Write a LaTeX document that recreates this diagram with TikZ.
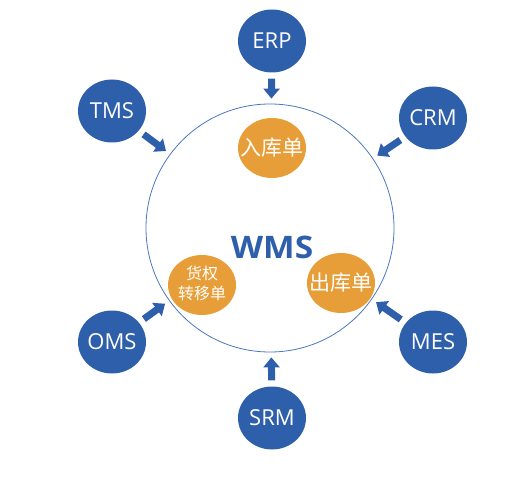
\documentclass[tikz,border=0pt]{standalone}
\usepackage{fontspec}
\setmainfont{Open Sans}
\newfontfamily\cjk{Noto Sans CJK SC}
\usetikzlibrary{shapes.geometric,arrows.meta}
\definecolor{sysblue}{HTML}{2E5FAA}
\definecolor{ringblue}{HTML}{4A78BD}
\definecolor{docorange}{HTML}{E89E38}
% text of fixed-size nodes takes no width
\newcommand{\zerowide}[1]{\makebox[0pt]{#1}}
\begin{document}
\begin{tikzpicture}[x=1pt,y=-1pt,
        sysnode/.style={ellipse, fill=sysblue, text=white, inner sep=0pt,
            minimum width=68pt, minimum height=63pt, font=\fontsize{22}{24}\selectfont},
        docnode/.style={ellipse, fill=docorange, text=white, inner sep=0pt,
            minimum width=68pt, minimum height=60pt, font=\cjk\fontsize{21}{24}\selectfont},
        feed/.style={draw=sysblue, line width=7pt, shorten <=6pt, shorten >=5pt,
            -{Triangle[width=16pt,length=10pt]}}]
        \useasboundingbox (0,0) rectangle (508,478);

        % the WMS ring
        \node[circle, draw=ringblue, line width=0.8pt, minimum size=248pt, inner sep=0pt] (wms) at (270,228) {};
        \node[text=sysblue, font=\bfseries\fontsize{31}{33}\selectfont] (wmslabel) at (272,247) {\scalebox{1.08}[1]{WMS}};

        % documents inside
        \node[docnode] (inbound) at (272,148) {\zerowide{入库单}};
        \node[docnode, font=\cjk\fontsize{16}{20}\selectfont] (transfer) at (202,285)
            {\zerowide{\begin{tabular}{@{}c@{}}货权\\转移单\end{tabular}}};
        \node[docnode] (outbound) at (341,283) {\zerowide{出库单}};

        % outer systems
        \node[sysnode] (erp) at (272,41) {\zerowide{ERP}};
        \node[sysnode] (tms) at (112,111) {\zerowide{TMS}};
        \node[sysnode] (crm) at (433,118) {\zerowide{CRM}};
        \node[sysnode] (oms) at (112,342) {\zerowide{OMS}};
        \node[sysnode] (mes) at (433,342) {\zerowide{MES}};
        \node[sysnode] (srm) at (272,418) {\zerowide{SRM}};

        \foreach \sys in {erp,tms,crm,oms,mes,srm}
            \draw[feed] (\sys) -- (wms);
    \end{tikzpicture}
\end{document}
